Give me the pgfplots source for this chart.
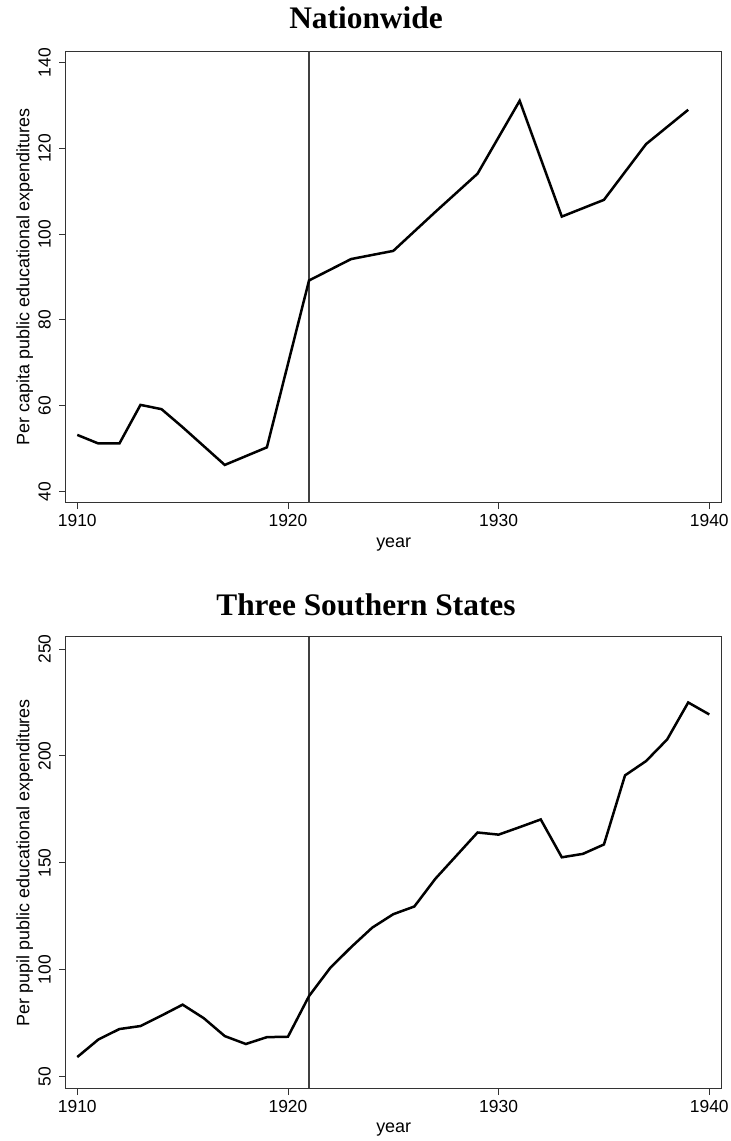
\documentclass[border=0pt]{standalone}
\usepackage{fontspec}
\setmainfont{Liberation Sans}
\newfontfamily\titlefont{Liberation Serif}
\usepackage{pgfplots}
\pgfplotsset{compat=1.18}
\pgfplotsset{
  myaxis/.style={
    scale only axis,
    width=656bp,
    xmin=1909.45, xmax=1940.59,
    xtick={1910,1920,1930,1940},
    tick align=outside,
    xtick pos=bottom, ytick pos=left,
    major tick length=6.5bp,
    axis line style={draw=black!80, line width=1bp},
    tick style={draw=black!80, line width=0.9bp},
    /pgf/number format/assume math mode=true,
    /pgf/number format/1000 sep={},
    ticklabel style={font=\fontsize{17.5}{18}\selectfont},
    yticklabel style={rotate=90, anchor=south},
    yticklabel shift=5bp,
    xticklabel style={anchor=base, yshift=-17.5bp},
    every axis x label/.style={at={(axis description cs:0.5,0)}, anchor=base, yshift=-44.6bp, font=\fontsize{18}{18}\selectfont},
    every axis y label/.style={at={(axis description cs:0,0.5)}, rotate=90, anchor=base, yshift=36.2bp, font=\fontsize{18}{18}\selectfont},
    xlabel={year},
  }
}
\begin{document}
\begin{tikzpicture}
\path[use as bounding box] (0,0) rectangle (731bp,-1141bp);
\node[font=\titlefont\bfseries\fontsize{31.5}{32}\selectfont, anchor=base] at (366bp,-28.3bp) {Nationwide};
\node[font=\titlefont\bfseries\fontsize{31.5}{32}\selectfont, anchor=base] at (366bp,-615bp) {Three Southern States};
\begin{axis}[myaxis, at={(65.7bp,-51bp)}, anchor=north west,
  height=451.5bp, ymin=37.44, ymax=142.7, ytick={40,60,80,100,120,140},
  ylabel={Per capita public educational expenditures}]
\addplot[draw=black!75, line width=1.2bp] coordinates {(1921,37.44) (1921,142.7)};
\addplot[black, line width=2.5bp, line join=miter] coordinates {
(1910,53.2) (1911,51.2) (1912,51.2) (1913,60.2) (1914,59.2) (1915,55) (1917,46.2)
(1919,50.3) (1921,89.2) (1923,94.2) (1925,96.1) (1927,105.2) (1929,114.1)
(1931,131.1) (1933,104.1) (1935,108) (1937,121) (1939,129)};
\end{axis}
\begin{axis}[myaxis, at={(65.7bp,-636.7bp)}, anchor=north west,
  height=451.6bp, ymin=44.58, ymax=255.75, ytick={50,100,150,200,250},
  ylabel={Per pupil public educational expenditures}]
\addplot[draw=black!75, line width=1.2bp] coordinates {(1921,44.58) (1921,255.75)};
\addplot[black, line width=2.5bp, line join=miter] coordinates {
(1910,59.2) (1911,67.4) (1912,72.3) (1913,73.7) (1914,78.6) (1915,83.7) (1916,77.4)
(1917,69) (1918,65.3) (1919,68.5) (1920,68.7) (1921,87.7) (1922,100.8) (1923,110.6)
(1924,119.7) (1925,126) (1926,129.6) (1927,142.6) (1928,153.4) (1929,164.2)
(1930,163.2) (1931,166.7) (1932,170.3) (1933,152.6) (1934,154.2) (1935,158.6)
(1936,190.9) (1937,197.6) (1938,207.7) (1939,225) (1940,219.4)};
\end{axis}
\end{tikzpicture}
\end{document}
